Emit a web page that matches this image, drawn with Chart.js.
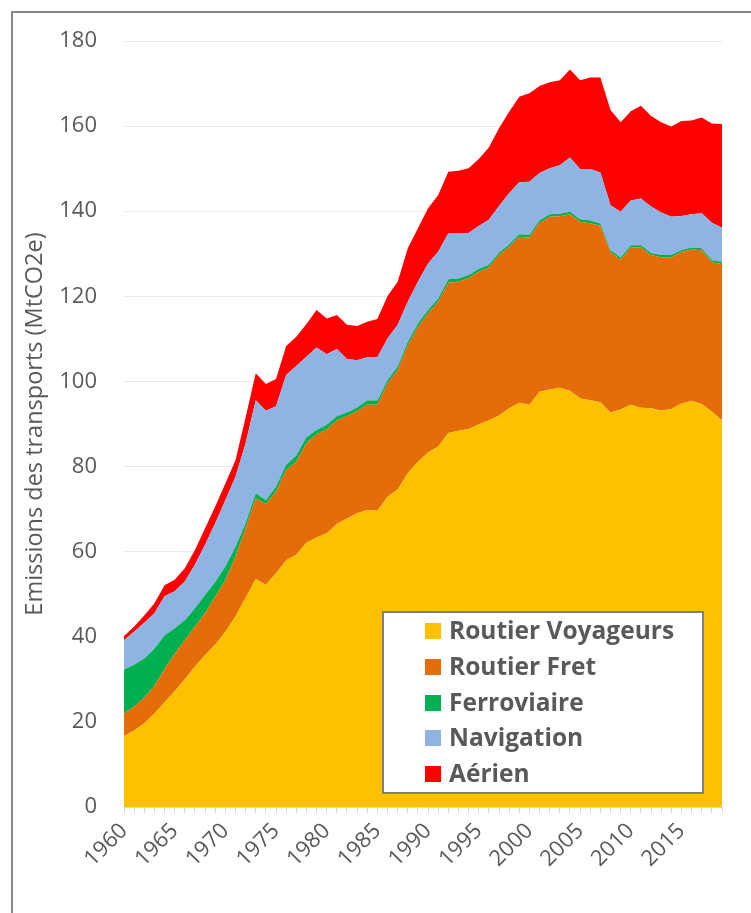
<!DOCTYPE html>
<html><head><meta charset="utf-8">
<script src="https://cdn.jsdelivr.net/npm/chart.js@4.4.1/dist/chart.umd.min.js"></script>
<style>
html,body{margin:0;padding:0;background:#fff;overflow:hidden;}
#wrap{position:relative;width:751px;height:913px;}
#frame{position:absolute;left:11px;top:11px;width:800px;height:1000px;border-left:2px solid #878787;border-top:2px solid #878787;}
canvas{position:absolute;left:0;top:0;}
</style></head><body>
<div id="wrap"><div id="frame"></div><canvas id="c" width="751" height="913"></canvas></div>
<script>
const years = ["1960","1961","1962","1963","1964","1965","1966","1967","1968","1969",
"1970","1971","1972","1973","1974","1975","1976","1977","1978","1979",
"1980","1981","1982","1983","1984","1985","1986","1987","1988","1989",
"1990","1991","1992","1993","1994","1995","1996","1997","1998","1999",
"2000","2001","2002","2003","2004","2005","2006","2007","2008","2009",
"2010","2011","2012","2013","2014","2015","2016","2017","2018","2019"];

const routierVoyageurs = [16.7,18.0,19.7,22.0,24.6,27.2,30.0,33.0,35.7,38.1,
41.2,44.8,49.2,53.6,52.2,54.9,58.0,59.3,62.1,63.3,
64.3,66.5,67.8,69.0,69.8,69.6,72.9,74.6,78.4,81.1,
83.3,84.7,87.9,88.4,88.8,89.9,90.9,92.0,93.7,95.0,
94.5,97.6,98.1,98.5,97.8,96.0,95.6,95.1,92.7,93.4,
94.5,93.8,93.7,93.1,93.5,94.8,95.4,94.7,92.9,90.9];

const routierFret = [5.3,5.6,6.0,6.5,7.8,8.8,9.2,9.4,9.8,11.3,
12.1,14.0,16.3,18.9,19.0,19.2,21.2,21.8,23.4,24.3,
24.4,24.3,24.1,24.0,24.7,24.9,26.6,28.1,30.1,31.7,
32.7,34.0,35.3,35.0,35.5,35.9,35.9,37.8,37.9,39.0,
39.3,39.7,40.6,40.3,41.5,41.5,41.6,41.5,37.7,35.2,
37.0,37.7,36.0,36.1,35.7,35.6,35.6,36.1,35.1,36.7];

const ferroviaire = [10.3,9.8,9.2,8.7,7.9,6.0,4.7,4.3,4.3,3.5,
3.2,2.3,1.2,1.2,0.9,1.2,1.2,1.5,1.4,1.0,
1.1,1.0,0.8,0.9,1.1,1.0,0.8,0.8,0.8,0.8,
0.8,0.8,0.8,0.8,0.7,0.6,0.6,0.5,0.6,0.6,
0.6,0.6,0.6,0.6,0.6,0.6,0.6,0.5,0.5,0.5,
0.5,0.5,0.5,0.5,0.5,0.5,0.5,0.5,0.5,0.5];

const navigation = [6.9,7.8,8.4,8.3,9.2,8.7,9.1,10.2,11.8,13.8,
15.6,16.5,18.8,21.9,21.0,18.9,21.1,21.0,18.9,19.4,
16.6,15.8,12.6,11.1,10.1,10.2,9.8,9.8,9.4,9.8,
10.9,11.0,10.8,10.7,9.9,10.1,10.6,10.9,12.0,12.2,
12.5,11.1,10.8,11.4,12.7,11.8,12.1,12.0,10.5,10.8,
10.5,11.0,10.9,10.0,9.0,8.0,7.8,8.2,8.8,8.0];

const aerien = [1.0,1.2,1.7,2.4,2.6,2.7,3.1,3.5,3.9,3.9,
3.9,3.9,6.1,6.3,6.3,6.4,6.8,6.9,7.7,8.8,
8.4,8.0,8.0,8.0,8.3,9.0,10.0,10.1,12.6,12.6,
13.0,13.3,14.5,14.6,15.2,15.8,17.0,18.3,19.2,20.1,
20.8,20.4,20.2,20.0,20.7,20.9,21.5,22.3,22.4,21.0,
21.0,21.8,21.3,21.2,21.2,22.3,22.0,22.5,23.3,24.4];

const seriesNames = ["Routier Voyageurs","Routier Fret","Ferroviaire","Navigation","Aérien"];
const seriesColors = ["#FFC000","#E46C0A","#00B050","#8EB4E3","#FF0000"];
const seriesData = [routierVoyageurs, routierFret, ferroviaire, navigation, aerien];
const yTitle = "Emissions des transports (MtCO2e)";

const TXT = '#595959';
const FONT = '"Open Sans", "Noto Sans", sans-serif';

const legendBox = {
  id: 'legendBox',
  afterDraw(chart) {
    const ctx = chart.ctx;
    ctx.save();
    ctx.fillStyle = '#ffffff';
    ctx.fillRect(383, 612, 320, 181);
    ctx.strokeStyle = '#7f7f7f';
    ctx.lineWidth = 2;
    ctx.strokeRect(383, 612, 320, 181);
    ctx.font = 'bold 24.5px ' + FONT;
    ctx.textBaseline = 'middle';
    chart.data.datasets.forEach((ds, i) => {
      const cy = 631 + i * 35.8;
      ctx.fillStyle = ds.backgroundColor;
      ctx.fillRect(425, Math.round(cy - 8), 16, 16);
      ctx.fillStyle = TXT;
      ctx.fillText(ds.label, 449, cy + 1);
    });
    ctx.restore();
  }
};

const datasets = seriesNames.map((n, i) => ({
  label: n,
  data: seriesData[i],
  backgroundColor: seriesColors[i],
  borderColor: seriesColors[i],
  borderWidth: 0,
  fill: i === 0 ? 'origin' : '-1',
  pointRadius: 0,
  tension: 0
}));

new Chart(document.getElementById('c'), {
  type: 'line',
  data: { labels: years, datasets },
  options: {
    responsive: false,
    animation: false,
    devicePixelRatio: 1,
    layout: { padding: { top: 41, right: 29, left: 0, bottom: 0 } },
    plugins: { legend: { display: false }, tooltip: { enabled: false } },
    scales: {
      x: {
        offset: false,
        grid: { display: true, drawOnChartArea: false, drawTicks: true, tickLength: 6, color: '#d9d9d9' },
        border: { display: true, color: '#d9d9d9', width: 1 },
        ticks: {
          autoSkip: false, maxRotation: 45, minRotation: 45, padding: 5,
          color: TXT, font: { family: FONT, size: 22 },
          callback: function(v) { const l = this.getLabelForValue(v); return Number(l) % 5 === 0 ? l : ''; }
        },
        afterFit(s) { s.height = 913 - 807; }
      },
      y: {
        stacked: true, min: 0, max: 180,
        grid: { color: '#ebebeb', drawTicks: false },
        border: { display: false },
        ticks: { stepSize: 20, padding: 27, color: TXT, font: { family: FONT, size: 22 } },
        title: { display: true, text: yTitle, color: TXT, font: { family: FONT, size: 23.5 }, padding: { top: 21, bottom: 0 } },
        afterFit(s) { s.width = 124; }
      }
    }
  },
  plugins: [legendBox]
});
</script>
</body></html>
